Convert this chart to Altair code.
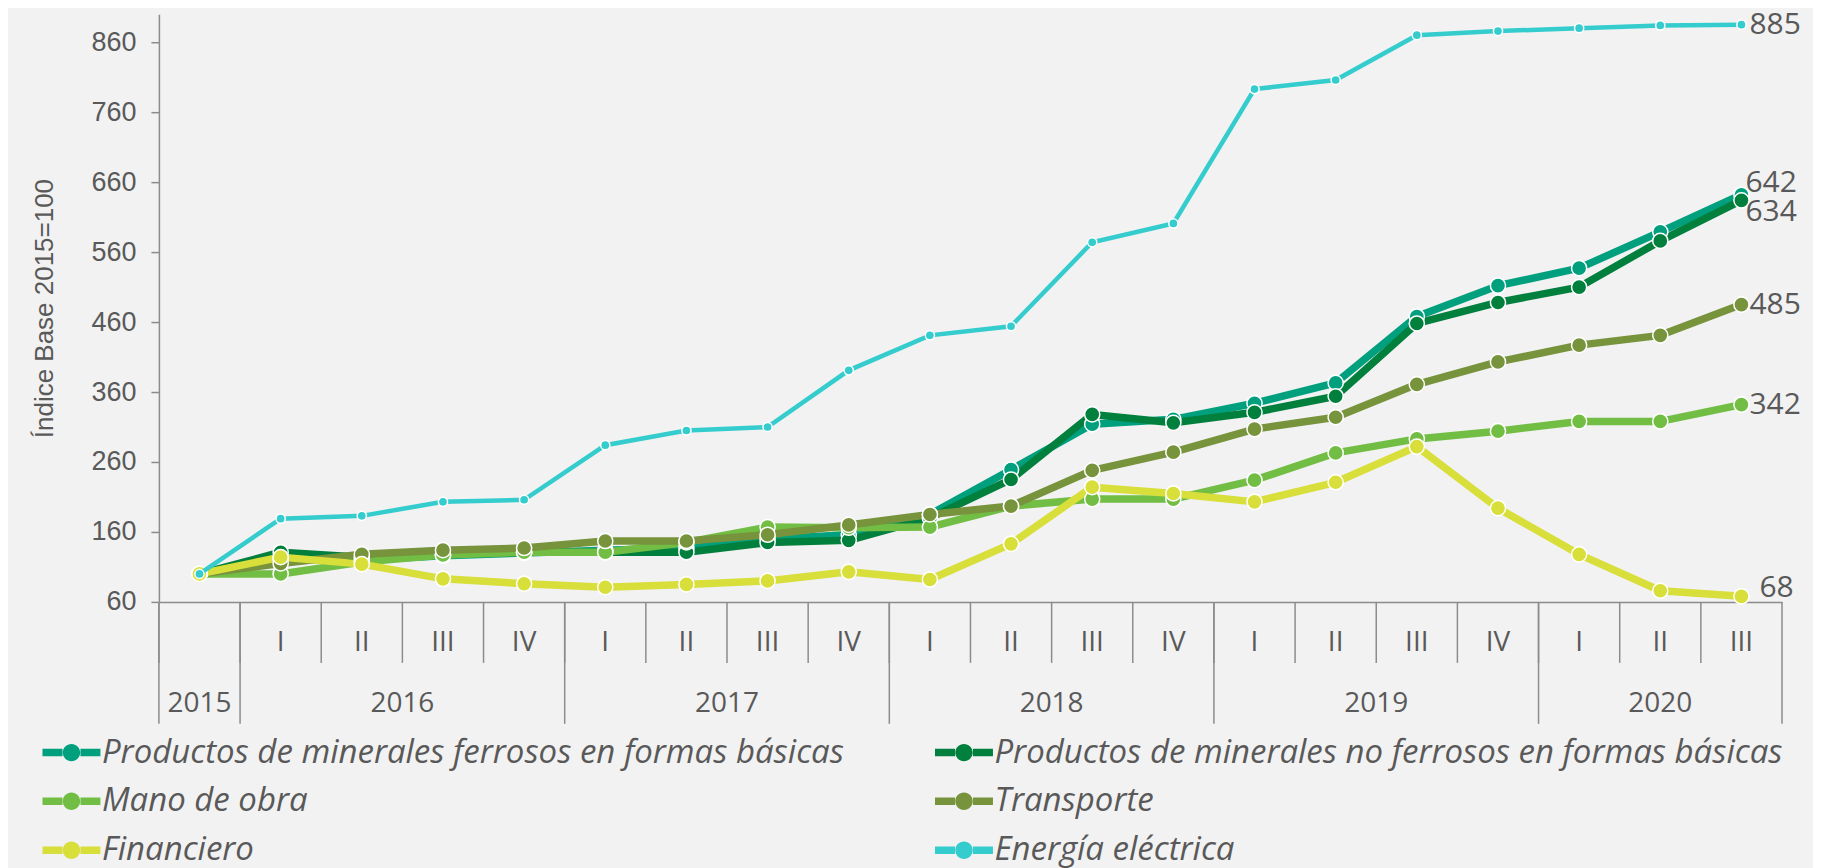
import altair as alt
import pandas as pd

# ---------------- data ----------------
years = ["2015"] + ["2016"] * 4 + ["2017"] * 4 + ["2018"] * 4 + ["2019"] * 4 + ["2020"] * 3
quarters = [""] + ["I", "II", "III", "IV"] * 4 + ["I", "II", "III"]
periods = [f"{y} {q}".strip() for y, q in zip(years, quarters)]

series_names = [
    "Productos de minerales ferrosos en formas básicas",
    "Productos de minerales no ferrosos en formas básicas",
    "Mano de obra",
    "Transporte",
    "Financiero",
    "Energía eléctrica",
]

ferrosos = [100, 121, 120, 126, 130, 134, 137, 150, 156, 185, 249, 314, 321, 344, 373, 468, 512, 537, 589, 642]
no_ferrosos = [100, 131, 124, 128, 131, 131, 131, 145, 148, 180, 235, 328, 316, 331, 354, 458, 488, 510, 576, 634]
mano_obra = [100, 100, 117, 127, 131, 131, 145, 167, 166, 167, 197, 207, 207, 234, 273, 293, 304, 318, 318, 342]
transporte = [100, 115, 128, 134, 137, 147, 147, 156, 170, 185, 197, 248, 274, 307, 324, 371, 403, 427, 441, 485]
financiero = [100, 124, 114, 93, 86, 81, 85, 90, 103, 92, 143, 224, 215, 203, 231, 282, 194, 128, 76, 68]
energia = [100, 179, 183, 203, 206, 284, 305, 310, 391, 441, 454, 574, 601, 793, 806, 870, 876, 880, 884, 885]

series_values = [ferrosos, no_ferrosos, mano_obra, transporte, financiero, energia]
colors = ["#00A07E", "#007F3D", "#72BE44", "#77933C", "#D8DE3A", "#35CCCE"]

year_labels = ["2015", "2016", "2017", "2018", "2019", "2020"]

# ---------------- tables ----------------
rows = []
for s_i, (name, vals) in enumerate(zip(series_names, series_values)):
    for p_i, (p, v) in enumerate(zip(periods, vals)):
        rows.append({"series": name, "period": p, "value": v, "order": s_i * 100 + p_i})
df = pd.DataFrame(rows)

last_df = pd.DataFrame({
    "series": series_names,
    "period": [periods[-1]] * len(series_names),
    "value": [v[-1] for v in series_values],
})

period_df = pd.DataFrame({"period": periods, "year": years, "quarter": quarters})

# ---------------- styling ----------------
GRAY = "#8C8C8C"
TXT = "#595959"
W, H = 1624, 588

xscale = alt.Scale(domain=periods, paddingInner=0, paddingOuter=0)
yscale = alt.Scale(domain=[60, 900], nice=False, zero=False)
cscale = alt.Scale(domain=series_names, range=colors)

legend_symbol = (
    "M-2,-0.26H-0.62V0.26H-2Z "
    "M0.62,-0.26H2V0.26H0.62Z "
    "M0.6,0A0.6,0.6,0,1,1,-0.6,0A0.6,0.6,0,1,1,0.6,0Z"
)

legend = alt.Legend(
    title=None,
    orient="none",
    direction="horizontal",
    legendX=-104,
    legendY=722,
    columns=2,
    padding=0,
    symbolType=legend_symbol,
    symbolSize=841,
    symbolStrokeWidth=0,
    labelFont="Open Sans",
    labelFontStyle="italic",
    labelFontSize=33,
    labelColor=TXT,
    labelLimit=0,
    labelOffset=14,
    columnPadding=90,
    rowPadding=15,
)

x_axis = alt.Axis(
    title=None,
    ticks=False,
    grid=False,
    domainColor=GRAY,
    domainWidth=1.5,
    labelFont="Open Sans",
    labelFontSize=28,
    labelColor=TXT,
    labelBaseline="middle",
    labelPadding=41,
    labelAngle=0,
    labelExpr="indexof(datum.label, ' ') > 0 ? substring(datum.label, indexof(datum.label, ' ') + 1) : ''",
)

y_axis = alt.Axis(
    title="Índice Base 2015=100",
    values=[60, 160, 260, 360, 460, 560, 660, 760, 860],
    grid=False,
    domainColor=GRAY,
    domainWidth=1.5,
    tickColor=GRAY,
    tickWidth=1.5,
    tickSize=8,
    labelPadding=15,
    labelFont="Liberation Sans",
    labelFontSize=27,
    labelColor=TXT,
    titleFont="Liberation Sans",
    titleFontSize=26,
    titleFontWeight="normal",
    titleColor=TXT,
    titleX=-114,
    titleY=294,
    titleAngle=270,
    titleAlign="center",
    titleBaseline="middle",
)

base = alt.Chart(df).encode(
    x=alt.X("period:N", scale=xscale, axis=x_axis, sort=periods),
    y=alt.Y("value:Q", scale=yscale, axis=y_axis),
    color=alt.Color("series:N", scale=cscale, legend=legend, sort=series_names),
    order=alt.Order("order:Q"),
)

big = alt.FieldOneOfPredicate(field="series", oneOf=series_names[:5])
small = alt.FieldEqualPredicate(field="series", equal=series_names[5])

pts_legend = base.mark_point(filled=True, shape="circle", size=230, opacity=1,
                             stroke="white", strokeWidth=1.5).transform_filter(big)
lines_big = base.mark_line(strokeWidth=7.5, strokeJoin="round").transform_filter(big)
pts_big = base.mark_point(filled=True, shape="circle", size=230, opacity=1,
                          stroke="white", strokeWidth=1.5).transform_filter(big)
line_cyan = base.mark_line(strokeWidth=4.5).transform_filter(small)
pts_cyan = base.mark_point(filled=True, shape="circle", size=85, opacity=1,
                           stroke="white", strokeWidth=1.5).transform_filter(small)

# end-of-series value labels (offsets are styling only)
label_offsets = {
    series_names[0]: (4, -12),
    series_names[1]: (4, 12),
    series_names[2]: (8, 0),
    series_names[3]: (8, 0),
    series_names[4]: (18, -8),
    series_names[5]: (8, 0),
}
label_layers = []
for name in series_names:
    dx, dy = label_offsets[name]
    label_layers.append(
        alt.Chart(last_df).transform_filter(alt.FieldEqualPredicate(field="series", equal=name))
        .mark_text(align="left", baseline="middle", dx=dx, dy=dy, font="Open Sans",
                   fontSize=30, color=TXT)
        .encode(
            x=alt.X("period:N", scale=xscale, sort=periods, bandPosition=0.5),
            y=alt.Y("value:Q", scale=yscale),
            text=alt.Text("value:Q", format="d"),
        )
    )

# two-level category axis decorations
q_rules = alt.Chart(period_df).mark_rule(color=GRAY, strokeWidth=1.5).encode(
    x=alt.X("period:N", scale=xscale, sort=periods, bandPosition=0),
    y=alt.value(H),
    y2=alt.value(H + 61),
)
year_start = alt.FieldOneOfPredicate(field="quarter", oneOf=["", "I"])
y_rules = alt.Chart(period_df).transform_filter(year_start).mark_rule(color=GRAY, strokeWidth=1.5).encode(
    x=alt.X("period:N", scale=xscale, sort=periods, bandPosition=0),
    y=alt.value(H),
    y2=alt.value(H + 122),
)
y_rule_end = alt.Chart(period_df).transform_filter(
    alt.FieldEqualPredicate(field="period", equal=periods[-1])
).mark_rule(color=GRAY, strokeWidth=1.5).encode(
    x=alt.X("period:N", scale=xscale, sort=periods, bandPosition=1),
    y=alt.value(H),
    y2=alt.value(H + 122),
)

# year labels: even-length years centred at a band boundary, others at a band centre
year_mid_edge = alt.FieldOneOfPredicate(field="period", oneOf=["2016 III", "2017 III", "2018 III", "2019 III"])
year_mid_band = alt.FieldOneOfPredicate(field="period", oneOf=["2015", "2020 II"])
yl_edge = alt.Chart(period_df).transform_filter(year_mid_edge).mark_text(
    font="Open Sans", fontSize=28, color=TXT, baseline="middle", align="center"
).encode(
    x=alt.X("period:N", scale=xscale, sort=periods, bandPosition=0),
    y=alt.value(H + 102),
    text="year:N",
)
yl_band = alt.Chart(period_df).transform_filter(year_mid_band).mark_text(
    font="Open Sans", fontSize=28, color=TXT, baseline="middle", align="center"
).encode(
    x=alt.X("period:N", scale=xscale, sort=periods, bandPosition=0.5),
    y=alt.value(H + 102),
    text="year:N",
)

chart = alt.layer(
    pts_legend, lines_big, pts_big, line_cyan, pts_cyan,
    *label_layers, q_rules, y_rules, y_rule_end, yl_edge, yl_band,
).properties(
    width=W,
    height=H,
    background="#F2F2F2",
    padding={"left": 151, "top": 6, "right": 31, "bottom": 266},
    autosize=alt.AutoSizeParams(type="none"),
).configure_view(strokeWidth=0)

chart.save("out.html", embed_options={"renderer": "svg", "actions": False})
